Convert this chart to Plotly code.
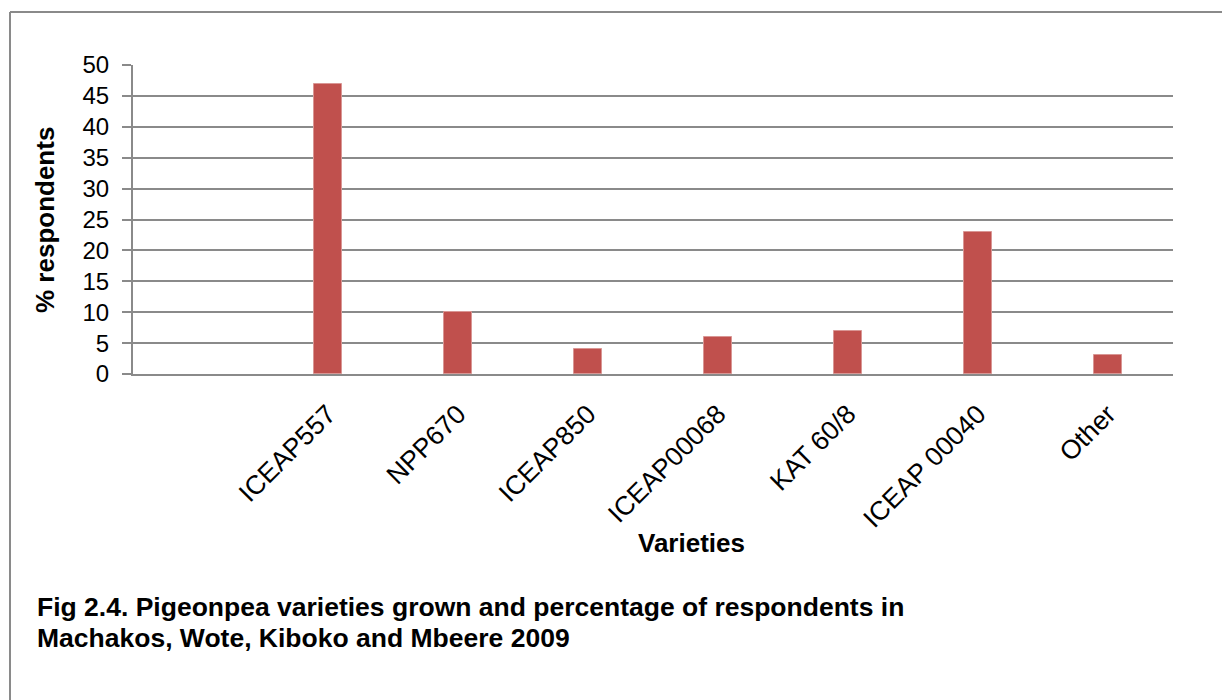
import plotly.graph_objects as go

# Survey results: share of respondents growing each pigeonpea variety
categories = ["", "ICEAP557", "NPP670", "ICEAP850", "ICEAP00068", "KAT 60/8", "ICEAP 00040", "Other"]
respondents_pct = [None, 47, 10, 4, 6, 7, 23, 3]
y_ticks = [0, 5, 10, 15, 20, 25, 30, 35, 40, 45, 50]

caption_lines = [
    "Fig 2.4. Pigeonpea varieties grown and percentage of respondents in",
    "Machakos, Wote, Kiboko and Mbeere 2009",
]

W, H = 1222, 700
ML, MR, MT, MB = 133, 49, 65, 326
PW, PH = W - ML - MR, H - MT - MB


def px_x(px):
    return (px - ML) / PW


def px_y(py):
    return (H - MB - py) / PH


FONT = "Liberation Sans, Arial, sans-serif"
GRID = "#8a8a8a"

x_idx = list(range(len(categories)))

fig = go.Figure(
    go.Bar(
        x=x_idx,
        y=respondents_pct,
        width=0.22,
        marker=dict(color="#C0504D", line=dict(color="#D99694", width=1)),
        hoverinfo="x+y",
    )
)

fig.update_layout(
    width=W,
    height=H,
    margin=dict(l=ML, r=MR, t=MT, b=MB, pad=0),
    paper_bgcolor="white",
    plot_bgcolor="white",
    showlegend=False,
    font=dict(family=FONT, color="black"),
    bargap=0,
)

fig.update_xaxes(
    range=[-0.5, len(categories) - 0.5],
    tickmode="array",
    tickvals=x_idx,
    ticktext=categories,
    tickangle=-45,
    tickfont=dict(family=FONT, size=26.5, color="black"),
    showgrid=False,
    showline=True,
    linecolor=GRID,
    linewidth=2,
    ticks="",
    ticklabelstandoff=12,
    zeroline=False,
)

fig.update_yaxes(
    range=[0, 50],
    tickmode="array",
    tickvals=y_ticks,
    ticktext=[str(v) for v in y_ticks],
    tickfont=dict(family=FONT, size=24, color="black"),
    showgrid=True,
    gridcolor=GRID,
    gridwidth=2,
    showline=True,
    linecolor=GRID,
    linewidth=2,
    ticks="outside",
    ticklen=9,
    tickwidth=2,
    tickcolor=GRID,
    ticklabelstandoff=8,
    zeroline=False,
)

annotations = [
    dict(
        text="<b>Varieties</b>", x=px_x(691), y=px_y(543), xref="paper", yref="paper",
        xanchor="center", yanchor="middle", showarrow=False,
        font=dict(family=FONT, size=26, color="black"),
    ),
    dict(
        text="<b>% respondents</b>", x=px_x(45), y=px_y(220), xref="paper", yref="paper",
        xanchor="center", yanchor="middle", textangle=-90, showarrow=False,
        font=dict(family=FONT, size=26, color="black"),
    ),
]
# Caption below the chart, one annotation per line
for i, line in enumerate(caption_lines):
    annotations.append(
        dict(
            text=f"<b>{line}</b>", x=px_x(35), y=px_y(607 + 30.5 * i), xref="paper", yref="paper",
            xanchor="left", yanchor="middle", showarrow=False,
            font=dict(family=FONT, size=26.5, color="black"),
        )
    )
fig.update_layout(annotations=annotations)

# Outer frame: top and left edges only
fig.add_shape(type="line", xref="paper", yref="paper",
              x0=px_x(10), x1=px_x(W + 5), y0=px_y(12), y1=px_y(12),
              line=dict(color=GRID, width=2))
fig.add_shape(type="line", xref="paper", yref="paper",
              x0=px_x(10), x1=px_x(10), y0=px_y(12), y1=px_y(H + 5),
              line=dict(color=GRID, width=2))

fig.write_html("out.html")
